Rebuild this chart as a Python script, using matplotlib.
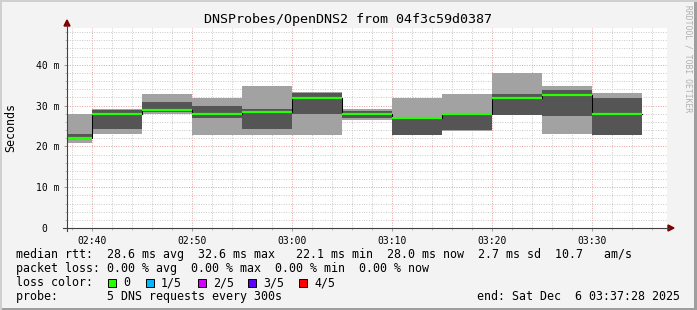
import numpy as np
import matplotlib
matplotlib.use("Agg")
import matplotlib.pyplot as plt
from matplotlib.ticker import MultipleLocator, FixedLocator
from matplotlib.patches import Rectangle, Polygon
from matplotlib.lines import Line2D

# bar end times, minutes after 02:00 (each bar covers the 5 min before)
t_end = [40, 45, 50, 55, 60, 65, 70, 75, 80, 85, 90, 95]
# the 5 sorted pings of each step, ms
p1 = [20.9, 23.0, 27.9, 22.8, 22.8, 22.8, 26.5, 22.8, 23.8, 27.7, 23.1, 22.8]
p2 = [21.9, 24.2, 28.3, 27.0, 24.3, 27.9, 26.9, 22.9, 23.9, 27.8, 27.5, 22.9]
median = [22.1, 27.9, 28.9, 28.0, 28.3, 31.9, 28.0, 27.0, 27.9, 31.9, 32.7, 28.0]
p4 = [23.0, 28.8, 30.8, 29.9, 29.1, 33.1, 28.6, 27.1, 28.1, 32.8, 33.8, 31.9]
p5 = [27.9, 29.1, 32.8, 31.9, 34.8, 33.2, 29.1, 31.9, 32.8, 38.0, 34.8, 33.1]

xtick_pos = [40, 50, 60, 70, 80, 90]
xtick_labels = ["02:40", "02:50", "03:00", "03:10", "03:20", "03:30"]
ytick_pos = [0, 10, 20, 30, 40]
ytick_labels = ["0  ", "10 m", "20 m", "30 m", "40 m"]

loss_labels = ["0", "1/5", "2/5", "3/5", "4/5"]
loss_colors = ["#26ff00", "#00b8ff", "#d400ff", "#5e00ff", "#ff0000"]

title = "DNSProbes/OpenDNS2 from 04f3c59d0387"
row1 = "median rtt:  28.6 ms avg  32.6 ms max   22.1 ms min  28.0 ms now  2.7 ms sd  10.7   am/s"
row2 = "packet loss: 0.00 % avg  0.00 % max  0.00 % min  0.00 % now"
row4 = "probe:       5 DNS requests every 300s"
end_txt = "end: Sat Dec  6 03:37:28 2025"

W, H = 697, 310
plt.rcParams['font.family'] = ['DejaVu Sans Mono', 'DejaVu Sans']

fig = plt.figure(figsize=(W / 100, H / 100), dpi=100, facecolor="#f3f3f3")

def fx(x):
    return x / W

def fy(y):
    return 1 - y / H

# plot area: x 67..667, y 28..228 (image pixels)
ax = fig.add_axes([fx(67), fy(228), 600 / W, 200 / H])
ax.set_facecolor("white")
ax.set_xlim(37.5, 97.5)
ax.set_ylim(0, 49)

starts = [t - 5 for t in t_end]
lo1 = np.array(p1); hi1 = np.array(p5)
lo2 = np.array(p2); hi2 = np.array(p4)
ax.bar(starts, hi1 - lo1, width=5, bottom=lo1, align="edge", color="#a2a2a2", lw=0, zorder=2)
ax.bar(starts, hi2 - lo2, width=5, bottom=lo2, align="edge", color="#555555", lw=0, zorder=3)

# median: thin black step line with green segments on top
sx = starts + [t_end[-1]]
sy = median + [median[-1]]
ax.step(sx, sy, where="post", color="black", lw=0.75, zorder=4)
ax.hlines(median, starts, t_end, color=loss_colors[0], lw=1.6, zorder=5)

# grid
ax.xaxis.set_major_locator(FixedLocator(xtick_pos))
ax.xaxis.set_minor_locator(MultipleLocator(2))
ax.yaxis.set_major_locator(FixedLocator(ytick_pos))
ax.yaxis.set_minor_locator(MultipleLocator(2))
ax.grid(which="minor", color="#c8c8c8", lw=0.7, ls=(0, (1, 1.5)), zorder=1)
ax.grid(which="major", color="#e6a0a0", lw=0.7, ls=(0, (1, 1.5)), zorder=1)
ax.set_axisbelow(True)

ax.set_xticklabels(xtick_labels, fontsize=7)
ax.set_yticklabels(ytick_labels, fontsize=7)
ax.tick_params(which="major", length=2.2, width=0.7, color="#999999", pad=3)
ax.tick_params(which="minor", length=1.4, width=0.7, color="#bbbbbb")
ax.tick_params(axis="x", pad=3.5)
ax.tick_params(axis="y", pad=3)
for s in ax.spines.values():
    s.set_visible(False)

# axis lines with arrows
axc = "#404040"
arc = "#800000"
fig.add_artist(Line2D([fx(67), fx(67)], [fy(231), fy(25)], color=axc, lw=0.8))
fig.add_artist(Line2D([fx(63), fx(669)], [fy(228), fy(228)], color=axc, lw=0.8))
fig.add_artist(Polygon([[fx(64), fy(26)], [fx(70), fy(26)], [fx(67), fy(20)]], color=arc))
fig.add_artist(Polygon([[fx(668), fy(225)], [fx(668), fy(231)], [fx(674), fy(228)]], color=arc))

# titles
fig.text(fx(348), fy(19), title, fontsize=9.6, ha="center", va="center")
fig.text(fx(11), fy(128), "Seconds", fontsize=8.4, rotation=90, ha="center", va="center")
fig.text(fx(688), fy(5), "RRDTOOL / TOBI OETIKER", fontsize=5.8, rotation=270,
         ha="center", va="top", color="#b0b0b0")

# legend
lf = 8.4
fig.text(fx(16), fy(258), row1, fontsize=lf, va="baseline")
fig.text(fx(16), fy(272), row2, fontsize=lf, va="baseline")
fig.text(fx(16), fy(286), "loss color:", fontsize=lf, va="baseline")
sq_x = [108, 146, 198, 248, 299]
for x, lab, c in zip(sq_x, loss_labels, loss_colors):
    fig.add_artist(Rectangle((fx(x), fy(287)), 8 / W, 8 / H, facecolor=c,
                             edgecolor="black", lw=0.7))
    fig.text(fx(x + 15), fy(286), lab, fontsize=lf, va="baseline")
fig.text(fx(16), fy(300), row4, fontsize=lf, va="baseline")
fig.text(fx(680), fy(300), end_txt, fontsize=lf, va="baseline", ha="right")

# 3d frame
fig.add_artist(Rectangle((0, 0), 1, 2 / H, color="#9e9e9e", lw=0))
fig.add_artist(Rectangle((1 - 3 / W, 0), 3 / W, 1, color="#9e9e9e", lw=0))
fig.add_artist(Rectangle((0, 1 - 2 / H), 1, 2 / H, color="#cfcfcf", lw=0))
fig.add_artist(Rectangle((0, 0), 2 / W, 1, color="#cfcfcf", lw=0))

fig.savefig("out.png", dpi=100, facecolor=fig.get_facecolor())
